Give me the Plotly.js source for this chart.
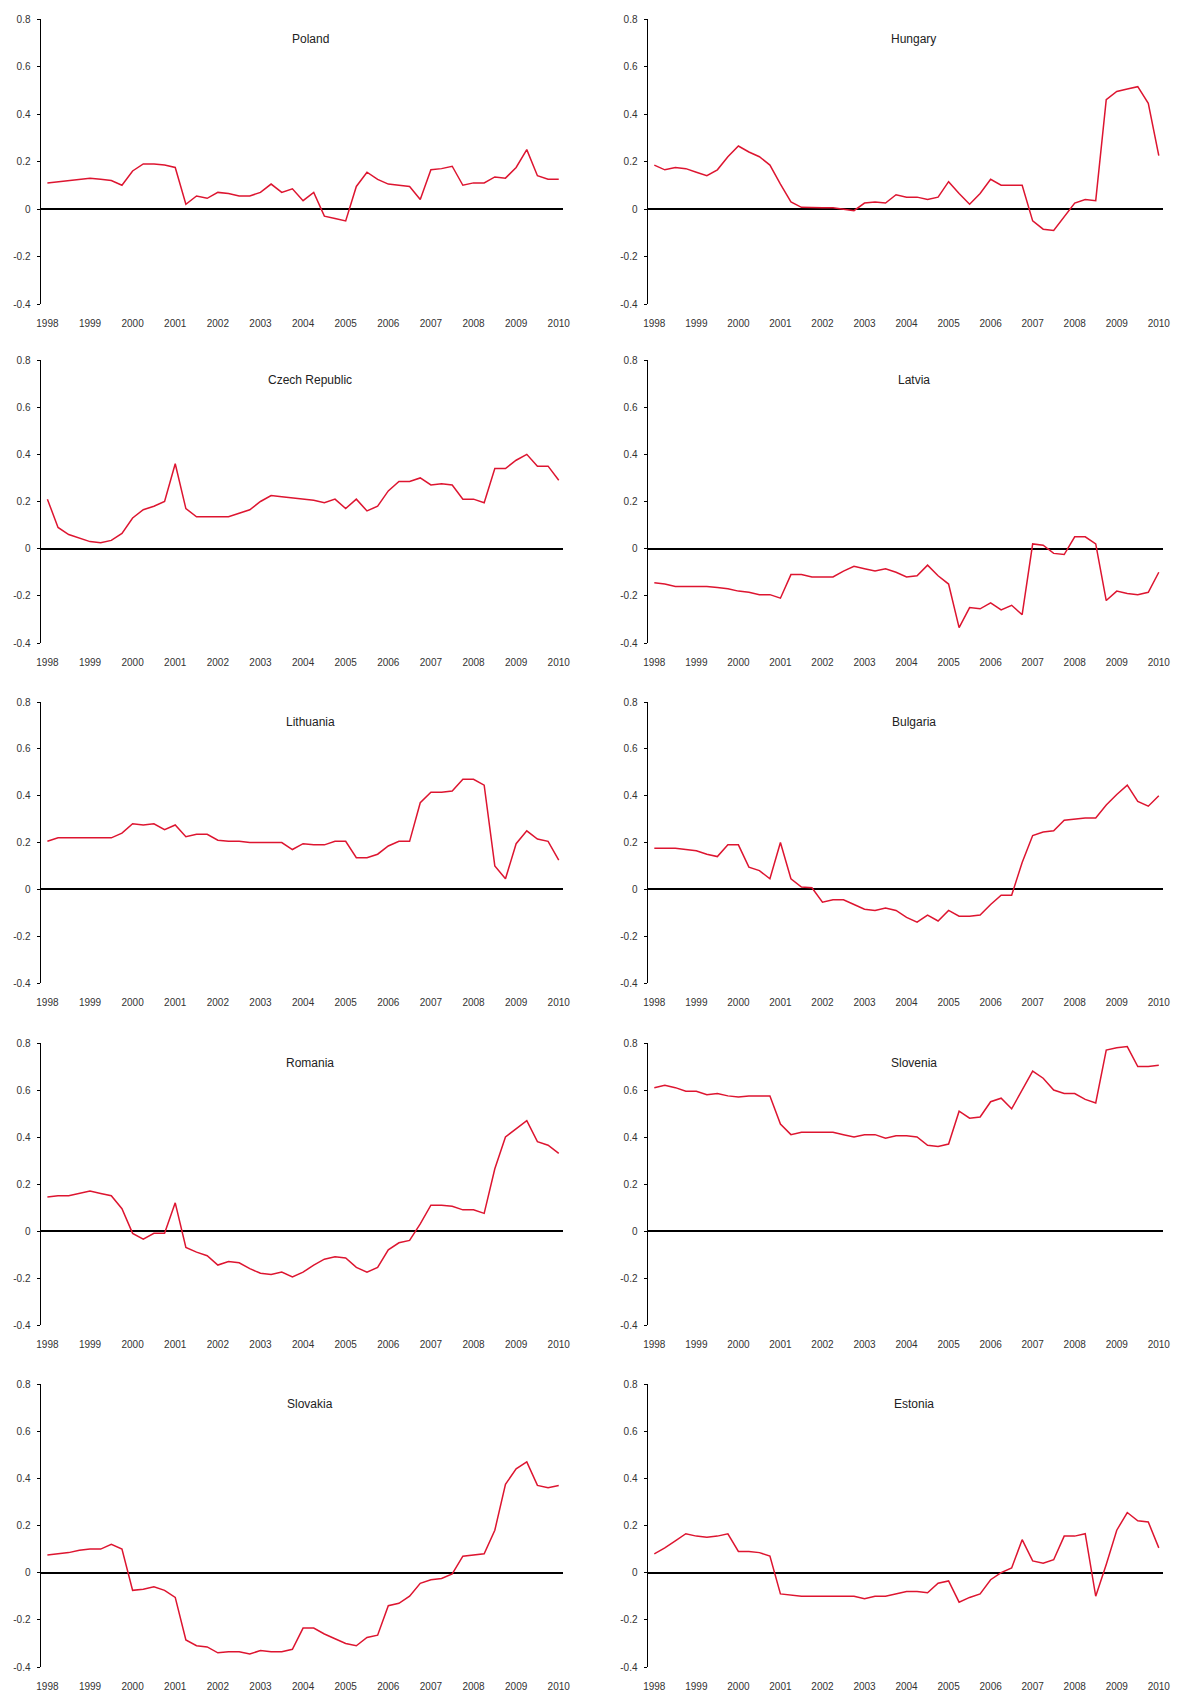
<!DOCTYPE html>
<html><head><meta charset="utf-8">
<script src="https://cdn.plot.ly/plotly-3.0.1.min.js"></script>
<style>html,body{margin:0;padding:0;background:#fff}</style>
</head><body><div id="chart" style="width:1182px;height:1695px"></div>
<script>
// quarterly observation dates (fractional years)
const quarters = [1998,1998.25,1998.5,1998.75,1999,1999.25,1999.5,1999.75,2000,2000.25,2000.5,2000.75,
  2001,2001.25,2001.5,2001.75,2002,2002.25,2002.5,2002.75,2003,2003.25,2003.5,2003.75,
  2004,2004.25,2004.5,2004.75,2005,2005.25,2005.5,2005.75,2006,2006.25,2006.5,2006.75,
  2007,2007.25,2007.5,2007.75,2008,2008.25,2008.5,2008.75,2009,2009.25,2009.5,2009.75,2010];
const tickYears = [1998,1999,2000,2001,2002,2003,2004,2005,2006,2007,2008,2009,2010];
const tickLabels = ['1998','1999','2000','2001','2002','2003','2004','2005','2006','2007','2008','2009','2010'];
const yTickVals = [0.8,0.6,0.4,0.2,0,-0.2,-0.4];
const yTickText = ['0.8','0.6','0.4','0.2','0','-0.2','-0.4'];
const countries = ['Poland','Hungary','Czech Republic','Latvia','Lithuania','Bulgaria','Romania','Slovenia','Slovakia','Estonia'];

const poland = [0.11,0.115,0.12,0.125,0.13,0.125,0.12,0.10,0.16,0.19,0.19,0.185,0.175,0.02,0.055,0.045,0.07,0.065,0.055,0.055,0.07,0.105,0.07,0.085,0.035,0.07,-0.03,-0.04,-0.05,0.095,0.155,0.125,0.105,0.10,0.095,0.04,0.165,0.17,0.18,0.10,0.11,0.11,0.135,0.13,0.175,0.25,0.14,0.125,0.125];
const hungary = [0.185,0.165,0.175,0.17,0.155,0.14,0.165,0.22,0.265,0.24,0.22,0.185,0.105,0.03,0.007,0.005,0.005,0.005,0.0,-0.007,0.025,0.03,0.025,0.06,0.05,0.05,0.04,0.05,0.115,0.065,0.02,0.065,0.125,0.10,0.10,0.10,-0.05,-0.085,-0.09,-0.035,0.025,0.04,0.035,0.46,0.495,0.505,0.515,0.445,0.225];
const czech = [0.21,0.09,0.06,0.045,0.03,0.025,0.035,0.065,0.13,0.165,0.18,0.20,0.36,0.17,0.135,0.135,0.135,0.135,0.15,0.165,0.20,0.225,0.22,0.215,0.21,0.205,0.195,0.21,0.17,0.21,0.16,0.18,0.245,0.285,0.285,0.30,0.27,0.275,0.27,0.21,0.21,0.195,0.34,0.34,0.375,0.40,0.35,0.35,0.29];
const latvia = [-0.145,-0.15,-0.16,-0.16,-0.16,-0.16,-0.165,-0.17,-0.18,-0.185,-0.195,-0.195,-0.21,-0.11,-0.11,-0.12,-0.12,-0.12,-0.095,-0.075,-0.085,-0.095,-0.085,-0.10,-0.12,-0.115,-0.07,-0.115,-0.15,-0.335,-0.25,-0.255,-0.23,-0.26,-0.24,-0.28,0.02,0.015,-0.02,-0.025,0.05,0.05,0.02,-0.22,-0.18,-0.19,-0.195,-0.185,-0.10];
const lithuania = [0.205,0.22,0.22,0.22,0.22,0.22,0.22,0.24,0.28,0.275,0.28,0.255,0.275,0.225,0.235,0.235,0.21,0.205,0.205,0.20,0.20,0.20,0.20,0.17,0.195,0.19,0.19,0.205,0.205,0.135,0.135,0.15,0.185,0.205,0.205,0.37,0.415,0.415,0.42,0.47,0.47,0.445,0.10,0.045,0.195,0.25,0.215,0.205,0.125];
const bulgaria = [0.175,0.175,0.175,0.17,0.165,0.15,0.14,0.19,0.19,0.095,0.08,0.045,0.20,0.045,0.01,0.007,-0.055,-0.045,-0.045,-0.065,-0.085,-0.09,-0.08,-0.09,-0.12,-0.14,-0.11,-0.135,-0.09,-0.115,-0.115,-0.11,-0.065,-0.025,-0.025,0.115,0.23,0.245,0.25,0.295,0.30,0.305,0.305,0.36,0.405,0.445,0.375,0.355,0.40];
const romania = [0.145,0.15,0.15,0.16,0.17,0.16,0.15,0.095,-0.01,-0.035,-0.01,-0.01,0.12,-0.07,-0.09,-0.105,-0.145,-0.13,-0.135,-0.16,-0.18,-0.185,-0.175,-0.195,-0.175,-0.145,-0.12,-0.11,-0.115,-0.155,-0.175,-0.155,-0.08,-0.05,-0.04,0.03,0.11,0.11,0.105,0.09,0.09,0.075,0.265,0.40,0.435,0.47,0.38,0.365,0.33];
const slovenia = [0.61,0.62,0.61,0.595,0.595,0.58,0.585,0.575,0.57,0.575,0.575,0.575,0.455,0.41,0.42,0.42,0.42,0.42,0.41,0.40,0.41,0.41,0.395,0.405,0.405,0.40,0.365,0.36,0.37,0.51,0.48,0.485,0.55,0.565,0.52,0.60,0.68,0.65,0.60,0.585,0.585,0.56,0.545,0.77,0.78,0.785,0.70,0.70,0.705];
const slovakia = [0.075,0.08,0.085,0.095,0.10,0.10,0.12,0.10,-0.075,-0.07,-0.06,-0.075,-0.105,-0.285,-0.31,-0.315,-0.34,-0.335,-0.335,-0.345,-0.33,-0.335,-0.335,-0.325,-0.235,-0.235,-0.26,-0.28,-0.30,-0.31,-0.275,-0.265,-0.14,-0.13,-0.10,-0.045,-0.03,-0.025,-0.005,0.07,0.075,0.08,0.18,0.375,0.44,0.47,0.37,0.36,0.37];
const estonia = [0.08,0.105,0.135,0.165,0.155,0.15,0.155,0.165,0.09,0.09,0.085,0.07,-0.09,-0.095,-0.10,-0.10,-0.10,-0.10,-0.10,-0.10,-0.11,-0.10,-0.10,-0.09,-0.08,-0.08,-0.085,-0.045,-0.035,-0.125,-0.105,-0.09,-0.03,0.0,0.02,0.14,0.05,0.04,0.055,0.155,0.155,0.165,-0.10,0.035,0.18,0.255,0.22,0.215,0.105];

const series = [poland,hungary,czech,latvia,lithuania,bulgaria,romania,slovenia,slovakia,estonia];

const W = 1182, H = 1695;
const colPx = [[41,563],[648,1163]];
const rowPx = [[19,304],[360,643],[702,983],[1043,1325],[1384,1667]];
const fontFam = 'Liberation Sans, Arial, sans-serif';
const lineColor = '#dd1530';

const traces = [];
const layout = {
  width: W, height: H,
  margin: {l:0, r:0, t:0, b:0},
  paper_bgcolor: '#fff', plot_bgcolor: '#fff',
  showlegend: false,
  font: {family: fontFam, color: '#222'},
  annotations: []
};

series.forEach((vals, i) => {
  const n = i + 1;
  const col = i % 2, row = Math.floor(i / 2);
  const xd = [colPx[col][0] / W, colPx[col][1] / W];
  const yd = [1 - rowPx[row][1] / H, 1 - rowPx[row][0] / H];
  const xk = n === 1 ? 'xaxis' : 'xaxis' + n;
  const yk = n === 1 ? 'yaxis' : 'yaxis' + n;
  traces.push({
    x: quarters, y: vals, xaxis: 'x' + n, yaxis: 'y' + n,
    type: 'scatter', mode: 'lines',
    line: {color: lineColor, width: 1.5},
    hoverinfo: 'skip'
  });
  layout[xk] = {
    domain: xd, anchor: 'y' + n, range: [1997.85, 2010.1],
    tickvals: tickYears, ticktext: tickLabels,
    showline: false, zeroline: false, showgrid: false, ticks: '',
    ticklabelstandoff: 12,
    tickfont: {size: 10, color: '#333', family: fontFam},
    fixedrange: true
  };
  layout[yk] = {
    domain: yd, anchor: 'x' + n, range: [-0.4, 0.8],
    tickvals: yTickVals, ticktext: yTickText,
    showline: true, linecolor: '#000', linewidth: 1.5,
    ticks: 'outside', ticklen: 3, tickwidth: 1, tickcolor: '#000',
    ticklabelstandoff: 4,
    zeroline: true, zerolinecolor: '#000', zerolinewidth: 2,
    showgrid: false,
    tickfont: {size: 10, color: '#333', family: fontFam},
    fixedrange: true
  };
  layout.annotations.push({
    text: countries[i], xref: 'paper', yref: 'paper',
    x: (xd[0] + xd[1]) / 2 + 8 / W, y: 1 - (rowPx[row][0] + 20) / H,
    xanchor: 'center', yanchor: 'middle', showarrow: false,
    font: {size: 12, color: '#222', family: fontFam}
  });
});

Plotly.newPlot('chart', traces, layout, {staticPlot: true, displayModeBar: false});
</script>
</body></html>
